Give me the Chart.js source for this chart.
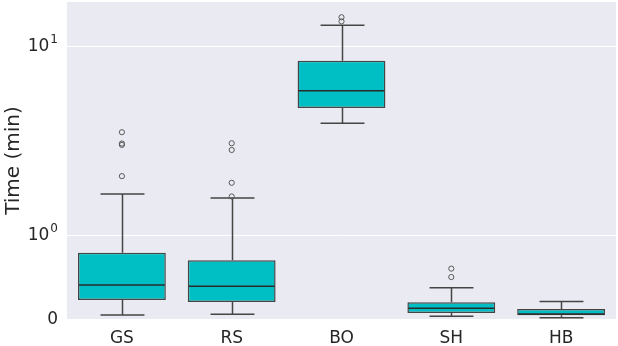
<!DOCTYPE html>
<html>
<head>
<meta charset="utf-8">
<script src="https://cdn.jsdelivr.net/npm/chart.js@4.4.0/dist/chart.umd.min.js"></script>
<style>
  html, body { margin: 0; padding: 0; background: #fff; }
  #wrap { width: 618px; height: 346px; }
</style>
</head>
<body>
<div id="wrap"><canvas id="c" width="618" height="346"></canvas></div>
<script>
'use strict';

// data (minutes)
var methods = ['GS', 'RS', 'BO', 'SH', 'HB'];
var whiskerLow = [0.048, 0.056, 3.9, 0.032, 0.016];
var q1 = [0.226, 0.203, 4.7, 0.071, 0.044];
var median = [0.405, 0.39, 5.8, 0.127, 0.06];
var q3 = [0.79, 0.70, 8.37, 0.199, 0.119];
var whiskerHigh = [1.65, 1.57, 12.9, 0.373, 0.21];
var outliers = [
	[2.05, 3.0, 3.05, 3.5],
	[1.6, 1.89, 2.82, 3.06],
	[13.5, 14.2],
	[0.5, 0.6],
	[]
];
var yTicks = [0, 1, 10];
var yMax = 17.1;

var fillColor = 'rgb(0,191,196)',
	edgeColor = '#454545',
	medianColor = '#2a2a2a',
	textColor = '#262626';

// symlog-like transform: linear below 1, log10 above
var LIN = 0.444;
function fwd(v) {
	return v <= 1 ? v * LIN : LIN + Math.log10(v);
}
function inv(t) {
	return t <= LIN ? t / LIN : Math.pow(10, t - LIN);
}

class SymLogScale extends Chart.LinearScale {
	buildTicks() {
		return yTicks.map(function (v) { return { value: v }; });
	}
	getPixelForValue(value) {
		if (value === undefined || value === null || isNaN(value)) {
			return NaN;
		}
		var a = fwd(this.min), b = fwd(this.max);
		return this.getPixelForDecimal((fwd(value) - a) / (b - a));
	}
	getValueForPixel(pixel) {
		var a = fwd(this.min), b = fwd(this.max);
		return inv(a + this.getDecimalForPixel(pixel) * (b - a));
	}
}
SymLogScale.id = 'symlog';
SymLogScale.defaults = {};
Chart.register(SymLogScale);

// outliers as {x, y} points on the category axis
var outlierPoints = [];
outliers.forEach(function (list, i) {
	list.forEach(function (v) {
		outlierPoints.push({ x: methods[i], y: v });
	});
});

var boxPlugin = {
	id: 'boxParts',
	beforeDraw: function (chart) {
		var a = chart.chartArea, ctx = chart.ctx;
		ctx.save();
		ctx.fillStyle = '#EAEAF2';
		ctx.fillRect(a.left, a.top, a.right - a.left, a.bottom - a.top);
		ctx.restore();
	},
	beforeDatasetsDraw: function (chart) {
		var x = chart.scales.x, y = chart.scales.y, ctx = chart.ctx;
		var half = x.width / methods.length * 0.8 / 4;
		ctx.save();
		ctx.strokeStyle = edgeColor;
		ctx.lineWidth = 1.5;
		methods.forEach(function (m, i) {
			var cx = Math.round(x.getPixelForValue(i)) + 0.5;
			ctx.beginPath();
			ctx.moveTo(cx, y.getPixelForValue(whiskerLow[i]));
			ctx.lineTo(cx, y.getPixelForValue(q1[i]));
			ctx.moveTo(cx, y.getPixelForValue(q3[i]));
			ctx.lineTo(cx, y.getPixelForValue(whiskerHigh[i]));
			ctx.moveTo(cx - half, y.getPixelForValue(whiskerLow[i]));
			ctx.lineTo(cx + half, y.getPixelForValue(whiskerLow[i]));
			ctx.moveTo(cx - half, y.getPixelForValue(whiskerHigh[i]));
			ctx.lineTo(cx + half, y.getPixelForValue(whiskerHigh[i]));
			ctx.stroke();
		});
		ctx.restore();
	},
	afterDatasetsDraw: function (chart) {
		var x = chart.scales.x, y = chart.scales.y, ctx = chart.ctx;
		var half = x.width / methods.length * 0.8 / 2;
		ctx.save();
		ctx.strokeStyle = medianColor;
		ctx.lineWidth = 1.5;
		methods.forEach(function (m, i) {
			var cx = x.getPixelForValue(i);
			var my = y.getPixelForValue(median[i]);
			ctx.beginPath();
			ctx.moveTo(cx - half + 1, my);
			ctx.lineTo(cx + half - 1, my);
			ctx.stroke();
		});
		ctx.restore();
	},
	afterDraw: function (chart) {
		// y tick labels with superscript exponents
		var y = chart.scales.y, ctx = chart.ctx;
		var right = chart.chartArea.left - 9;
		ctx.save();
		ctx.fillStyle = textColor;
		ctx.textAlign = 'right';
		ctx.textBaseline = 'middle';
		yTicks.forEach(function (v) {
			var py = y.getPixelForValue(v);
			if (v === 0) {
				ctx.font = '17px "DejaVu Sans"';
				ctx.fillText('0', right, py + 1);
				return;
			}
			var exp = String(Math.round(Math.log10(v)));
			ctx.font = '12px "DejaVu Sans"';
			var ew = ctx.measureText(exp).width;
			ctx.fillText(exp, right, py - 6);
			ctx.font = '17px "DejaVu Sans"';
			ctx.fillText('10', right - ew - 1, py + 1);
		});
		ctx.restore();
	}
};

new Chart(document.getElementById('c'), {
	data: {
		labels: methods,
		datasets: [{
			type: 'bar',
			data: methods.map(function (m, i) { return [q1[i], q3[i]]; }),
			backgroundColor: fillColor,
			borderColor: edgeColor,
			borderWidth: 1.5,
			borderSkipped: false,
			barPercentage: 0.8,
			categoryPercentage: 1
		}, {
			type: 'line',
			data: outlierPoints,
			showLine: false,
			pointStyle: 'circle',
			pointRadius: 2.6,
			pointBorderWidth: 1,
			pointBorderColor: '#5a5a5a',
			pointBackgroundColor: 'rgba(0,0,0,0)'
		}]
	},
	options: {
		responsive: false,
		animation: false,
		events: [],
		layout: { autoPadding: false, padding: { top: 2, right: 2, left: 2, bottom: 0 } },
		plugins: {
			legend: { display: false },
			tooltip: { enabled: false }
		},
		scales: {
			x: {
				type: 'category',
				offset: true,
				grid: { display: false },
				border: { display: false },
				ticks: {
					color: textColor,
					font: { family: 'DejaVu Sans', size: 17 },
					padding: 1
				},
				afterFit: function (s) {
					s.height = 27;
					s.paddingLeft = 0;
					s.paddingRight = 0;
				}
			},
			y: {
				type: 'symlog',
				min: 0,
				max: yMax,
				grid: { color: '#ffffff', lineWidth: 1, drawTicks: false },
				border: { display: false },
				ticks: { display: false },
				title: {
					display: true,
					text: 'Time (min)',
					color: textColor,
					font: { family: 'DejaVu Sans', size: 20 },
					padding: { top: 0, bottom: 0 }
				},
				afterFit: function (s) {
					s.width = 65;
					s.paddingTop = 0;
					s.paddingBottom = 0;
				}
			}
		}
	},
	plugins: [boxPlugin]
});
</script>
</body>
</html>
